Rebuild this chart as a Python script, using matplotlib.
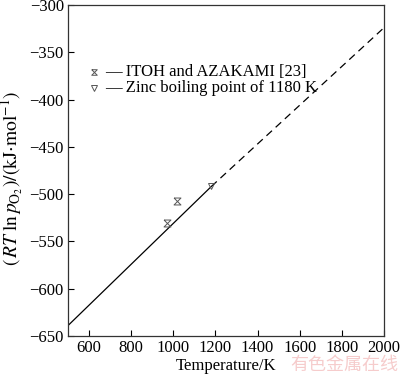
import matplotlib
matplotlib.use("Agg")
import matplotlib.pyplot as plt
from matplotlib.path import Path
import numpy as np

plt.rcParams['font.family'] = ['Liberation Serif', 'DejaVu Serif']
plt.rcParams['mathtext.fontset'] = 'stix'

# Data
line_T = [500, 1180, 2000]
line_G = [-639, -492, -324]
itoh_T = [968, 1016]
itoh_G = [-531, -507]
zinc_T = [1180]
zinc_G = [-491]
xticks = [600, 800, 1000, 1200, 1400, 1600, 1800, 2000]
yticks = [-650, -600, -550, -500, -450, -400, -350, -300]

hourglass = Path([(-1, 1), (1, 1), (-1, -1), (1, -1), (-1, 1)],
                 [Path.MOVETO, Path.LINETO, Path.LINETO, Path.LINETO, Path.LINETO])

fig = plt.figure(figsize=(4.0, 3.77), dpi=100)
ax = fig.add_axes([0.17, 0.1088, 0.79, 0.878])

ax.plot(line_T[:2], line_G[:2], color='black', lw=0.9)
ax.plot(line_T[1:], line_G[1:], color='black', lw=0.9, ls=(0, (6, 4)))
ax.plot(itoh_T, itoh_G, ls='none', marker=hourglass, ms=5, mfc='none', mec='#555555', mew=0.7)
ax.plot(zinc_T, zinc_G, ls='none', marker='v', ms=5, mfc='none', mec='#555555', mew=0.7)

ax.set_xlim(500, 2000)
ax.set_ylim(-650, -300)
ax.set_xticks(xticks)
ax.set_yticks(yticks)
ax.tick_params(direction='in', labelsize=12, length=4, width=0.8, pad=3)
for s in ax.spines.values():
    s.set_linewidth(0.9)
    s.set_color('#333333')

ax.set_xlabel('Temperature/K', fontsize=12, labelpad=1)
ax.set_ylabel(r'$(\,RT\;\mathrm{ln}\,p_{\mathrm{O}_2})/(\mathrm{kJ{\cdot}mol^{-1}})$', fontsize=14, labelpad=0)
ax.yaxis.set_label_coords(-0.135, 0.477)

# legend-like entries
ax.plot([623], [-371], ls='none', marker=hourglass, ms=4, mfc='none', mec='#555555', mew=0.7)
ax.plot([623], [-388], ls='none', marker='v', ms=4, mfc='none', mec='#555555', mew=0.7)
ax.text(675, -371, '— ITOH and AZAKAMI [23]', fontsize=12, va='center', ha='left')
ax.text(675, -388, '— Zinc boiling point of 1180 K', fontsize=12, va='center', ha='left')

fig.text(0.995, 0.008, '有色金属在线', fontsize=13, color='#f6cccc',
         family=['Noto Sans CJK SC', 'DejaVu Sans'], ha='right', va='bottom')

fig.savefig('out.png', dpi=100)
